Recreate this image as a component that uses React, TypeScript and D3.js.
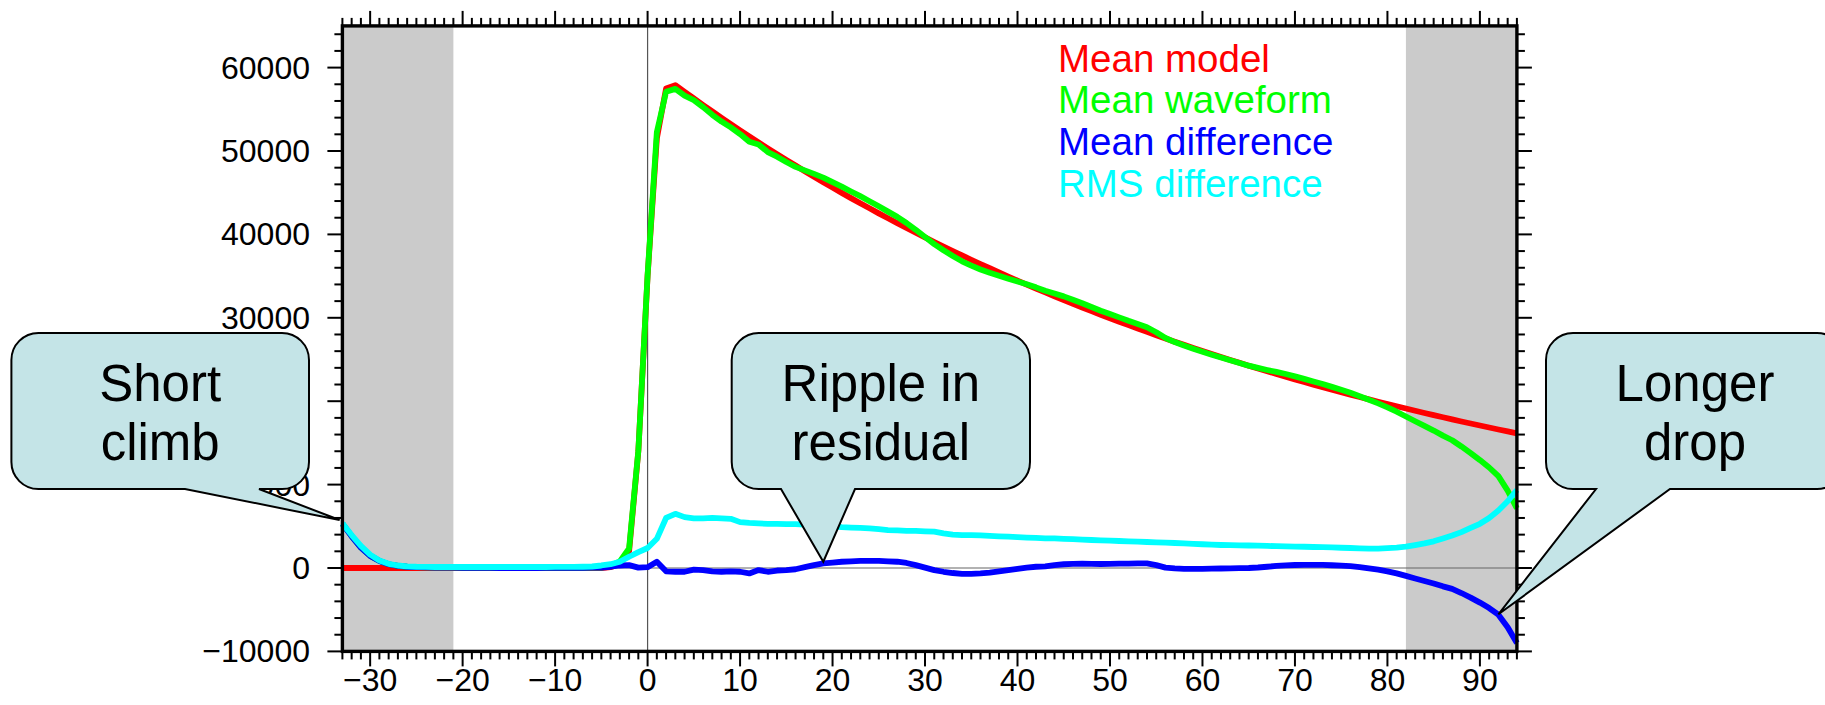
import React from 'react';
import * as d3 from 'd3';

// Sample positions (one sample per unit) and the four stacked traces.
const sampleX: number[] = d3.range(-33, 95);

const meanModel: number[] = [
  0, 0, 0, 0, 0, 0, 0, 0, 0, 0, 0, 0, 0, 0, 0, 0, 0, 0, 0, 0, 0, 0, 0, 0, 0, 0, 0, 0, 0,
  100, 500, 2000, 14000, 35000, 51500, 57500,
  57900, 57090, 56300, 55510, 54740, 53980, 53230, 52480, 51750, 51030,
  50320, 49620, 48930, 48250, 47580, 46910, 46260, 45610, 44980, 44350,
  43730, 43130, 42520, 41930, 41350, 40770, 40200, 39640, 39090, 38550,
  38010, 37480, 36960, 36440, 35940, 35440, 34940, 34460, 33980, 33500,
  33040, 32570, 32120, 31670, 31230, 30800, 30370, 29950, 29530, 29120,
  28710, 28310, 27920, 27530, 27140, 26770, 26390, 26030, 25660, 25310,
  24950, 24610, 24260, 23930, 23590, 23260, 22940, 22620, 22300, 21990,
  21690, 21390, 21090, 20790, 20500, 20220, 19940, 19660, 19390, 19120,
  18850, 18590, 18330, 18070, 17820, 17570, 17330, 17090, 16850, 16610,
  16380, 16150,
];

const meanWaveform: number[] = [
  5300, 3800, 2450, 1450, 850, 450, 250, 150, 100, 80, 60, 50, 40, 30, 20, 20, 10, 0, 0, -10,
  0, 0, 10, 20, 20, 30, 30, 40, 50,
  250, 800, 2350, 14050, 35100, 52250, 57100,
  57450, 56640, 56100, 55260, 54340, 53530, 52830, 52030, 51100, 50780,
  49870, 49320, 48680, 48100, 47680, 47260, 46810, 46260, 45730, 45150,
  44580, 43980, 43370, 42730, 42100, 41370, 40550, 39690, 38840, 38100,
  37410, 36780, 36260, 35790, 35390, 35040, 34690, 34360, 34030, 33650,
  33240, 32920, 32570, 32170, 31750, 31300, 30850, 30450, 30050, 29640,
  29260, 28860, 28270, 27580, 27090, 26670, 26290, 25930, 25580, 25250,
  24910, 24590, 24260, 23990, 23740, 23510, 23260, 22980, 22680, 22370,
  22060, 21720, 21370, 21010, 20600, 20170, 19740, 19260, 18740, 18170,
  17600, 17040, 16480, 15870, 15320, 14570, 13780, 12940, 12050, 11010,
  9280, 7150,
];

const meanDifference: number[] = [
  5300, 3800, 2450, 1450, 850, 450, 250, 150, 100, 80, 60, 50, 40, 30, 20, 20, 10, 0, 0, -10,
  0, 0, 10, 20, 20, 30, 30, 40, 50,
  150, 300, 350, 50, 100, 750, -400,
  -450, -450, -200, -250, -400, -450, -400, -450, -650, -250,
  -450, -300, -250, -150, 100, 350, 550, 650, 750, 800,
  850, 850, 850, 800, 750, 600, 350, 50, -250, -450,
  -600, -700, -700, -650, -550, -400, -250, -100, 50, 150,
  200, 350, 450, 500, 520, 500, 480, 500, 520, 520,
  550, 550, 350, 50, -50, -100, -100, -100, -80, -60,
  -40, -20, 0, 60, 150, 250, 320, 360, 380, 380,
  370, 330, 280, 220, 100, -50, -200, -400, -650, -950,
  -1250, -1550, -1850, -2200, -2500, -3000, -3550, -4150, -4800, -5600,
  -7100, -9000,
];

const rmsDifference: number[] = [
  5350, 3950, 2650, 1600, 900, 500, 300, 200, 150, 130, 120, 120, 120, 120, 120, 120, 120, 120, 120, 120,
  120, 120, 120, 130, 130, 140, 150, 180, 300,
  450, 750, 1350, 1900, 2400, 3500, 6000,
  6500, 6100, 5950, 5950, 6000, 5950, 5900, 5500, 5400, 5350,
  5300, 5300, 5250, 5250, 5200, 5150, 5100, 5000, 4900, 4850,
  4800, 4750, 4650, 4550, 4500, 4450, 4450, 4400, 4350, 4150,
  4000, 3950, 3950, 3900, 3850, 3800, 3750, 3700, 3650, 3600,
  3560, 3550, 3500, 3450, 3400, 3360, 3320, 3280, 3240, 3200,
  3160, 3120, 3080, 3040, 3000, 2950, 2900, 2850, 2800, 2760,
  2740, 2720, 2700, 2680, 2650, 2620, 2600, 2570, 2550, 2520,
  2500, 2470, 2430, 2400, 2360, 2330, 2330, 2380, 2450, 2560,
  2750, 2950, 3200, 3550, 3900, 4300, 4800, 5300, 6000, 6900,
  8000, 9350,
];

const seriesNames: string[] = ['Mean model', 'Mean waveform', 'Mean difference', 'RMS difference'];
const seriesColors: string[] = ['#ff0000', '#00ff00', '#0000ff', '#00ffff'];
const seriesValues: number[][] = [meanModel, meanWaveform, meanDifference, rmsDifference];

// Edge zones shaded grey (x ranges)
const shadeStart: number[] = [-33, 82];
const shadeEnd: number[] = [-21, 94];

// Axis ticks
const xMajorTicks: number[] = [-30, -20, -10, 0, 10, 20, 30, 40, 50, 60, 70, 80, 90];
const yMajorTicks: number[] = [-10000, 0, 10000, 20000, 30000, 40000, 50000, 60000];

// Callout notes
const noteLines: string[][] = [['Short', 'climb'], ['Ripple in', 'residual'], ['Longer', 'drop']];
const noteTipX: number[] = [-33.3, 19, 92];
const noteTipY: number[] = [5750, 750, -5550];

const FONT = '"Liberation Sans", Arial, Helvetica, sans-serif';

const W = 1825;
const H = 705;
const left = 342.4;
const right = 1516.9;
const top = 25.9;
const bottom = 651.4;

// Box geometry of each note (left, right, pointer base start, pointer base end)
const noteBoxes = [
  { x0: 11.4, x1: 309, b0: 185, b1: 259 },
  { x0: 731.7, x1: 1030, b0: 781, b1: 855 },
  { x0: 1546, x1: 1844, b0: 1596, b1: 1670 },
];
const noteTop = 333;
const noteBottom = 489;

function calloutPath(x0: number, x1: number, y0: number, y1: number, r: number,
  b0: number, b1: number, tx: number, ty: number): string {
  return [
    `M${x0 + r},${y0}`,
    `H${x1 - r}`,
    `A${r},${r} 0 0 1 ${x1},${y0 + r}`,
    `V${y1 - r}`,
    `A${r},${r} 0 0 1 ${x1 - r},${y1}`,
    `H${b1}`,
    `L${tx},${ty}`,
    `L${b0},${y1}`,
    `H${x0 + r}`,
    `A${r},${r} 0 0 1 ${x0},${y1 - r}`,
    `V${y0 + r}`,
    `A${r},${r} 0 0 1 ${x0 + r},${y0}`,
    'Z',
  ].join(' ');
}

export default function App() {
  const x = d3.scaleLinear().domain([-33, 94]).range([left, right]);
  const y = d3.scaleLinear().domain([-10000, 65000]).range([bottom, top]);

  const line = (vals: number[]) =>
    d3.line<number>()
      .x((_, i) => x(sampleX[i]))
      .y((v) => y(v))(vals) || '';

  const xMinor = d3.range(-33, 95);
  const yMinor = d3.range(-10000, 65001, 2000);

  return (
    <svg width={W} height={H} style={{ position: 'absolute', left: 0, top: 0, background: '#fff' }}
      fontFamily={FONT}>
      {/* shaded edge zones */}
      {shadeStart.map((s, i) => (
        <rect key={`sh${i}`} x={x(s)} y={top} width={x(shadeEnd[i]) - x(s)} height={bottom - top}
          fill="#cbcbcb" />
      ))}
      {/* zero reference lines */}
      <line x1={left} x2={right} y1={y(0)} y2={y(0)} stroke="#666" strokeWidth={1.2} />
      <line x1={x(0)} x2={x(0)} y1={top} y2={bottom} stroke="#555" strokeWidth={1.2} />

      {/* traces */}
      {seriesValues.map((vals, i) => (
        <path key={`s${i}`} d={line(vals)} fill="none" stroke={seriesColors[i]} strokeWidth={5.8}
          strokeLinejoin="round" strokeLinecap="butt" />
      ))}

      {/* legend */}
      {seriesNames.map((n, i) => (
        <text key={`lg${i}`} x={1058} y={71.5 + i * 41.7} fontSize={38.5} fill={seriesColors[i]}>{n}</text>
      ))}

      {/* frame and ticks */}
      <rect x={left} y={top} width={right - left} height={bottom - top} fill="none" stroke="#000"
        strokeWidth={3.4} />
      {xMinor.map((v) => {
        const len = v % 10 === 0 ? 15 : 8;
        const px = x(v);
        return (
          <g key={`xt${v}`} stroke="#000" strokeWidth={2}>
            <line x1={px} x2={px} y1={bottom} y2={bottom + len} />
            <line x1={px} x2={px} y1={top} y2={top - len} />
          </g>
        );
      })}
      {yMinor.map((v) => {
        const len = v % 10000 === 0 ? 15 : 8;
        const py = y(v);
        return (
          <g key={`yt${v}`} stroke="#000" strokeWidth={2}>
            <line x1={left} x2={left - len} y1={py} y2={py} />
            <line x1={right} x2={right + len} y1={py} y2={py} />
          </g>
        );
      })}
      {xMajorTicks.map((v) => (
        <text key={`xl${v}`} x={x(v)} y={691} fontSize={32} textAnchor="middle">
          {v < 0 ? `\u2212${Math.abs(v)}` : `${v}`}
        </text>
      ))}
      {yMajorTicks.map((v) => (
        <text key={`yl${v}`} x={310} y={y(v)} fontSize={32} textAnchor="end" dominantBaseline="central">
          {v < 0 ? `\u2212${Math.abs(v)}` : `${v}`}
        </text>
      ))}

      {/* callout notes */}
      {noteLines.map((lines, i) => {
        const b = noteBoxes[i];
        const tx = x(noteTipX[i]);
        const ty = y(noteTipY[i]);
        const cx = (b.x0 + b.x1) / 2;
        return (
          <g key={`n${i}`}>
            <path d={calloutPath(b.x0, b.x1, noteTop, noteBottom, 27, b.b0, b.b1, tx, ty)}
              fill="#c4e4e7" stroke="#000" strokeWidth={2} strokeLinejoin="miter" />
            {lines.map((t, j) => (
              <text key={j} x={cx} y={401 + j * 59} fontSize={51} textAnchor="middle" fill="#000">{t}</text>
            ))}
          </g>
        );
      })}
    </svg>
  );
}
